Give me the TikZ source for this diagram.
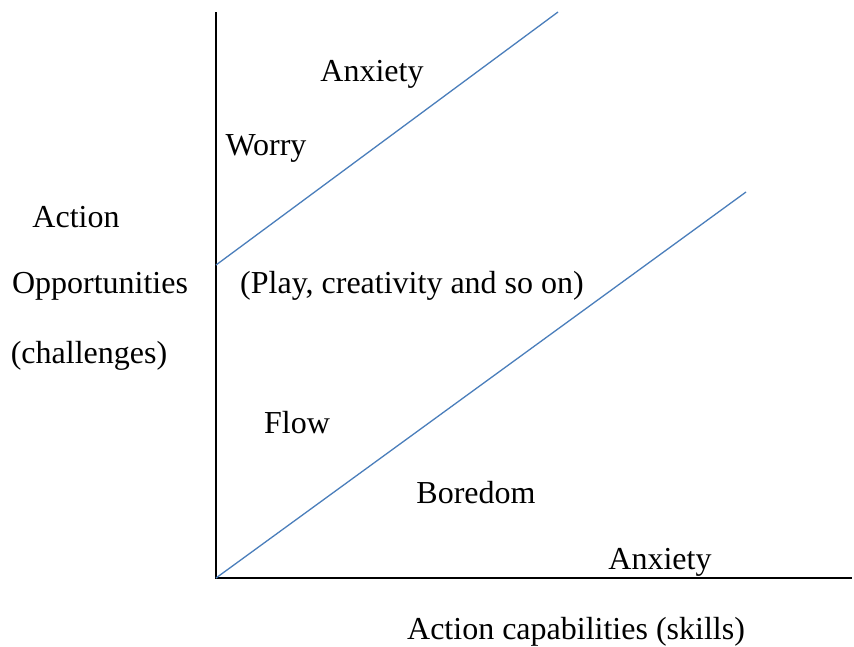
\documentclass[tikz,border=0pt]{standalone}
\usepackage{fontspec}
\setmainfont{Liberation Serif}
\definecolor{lineblue}{HTML}{4A7EBB}
\begin{document}
\begin{tikzpicture}[x=1pt,y=-1pt,
  axis/.style={black,line width=1.3pt},
  zone/.style={lineblue,line width=1.3pt},
  lbl/.style={font=\fontsize{32}{36}\selectfont,inner sep=0pt}]
\useasboundingbox[fill=white] (0,0) rectangle (854,646);
% axes
\coordinate (top) at (216,12);
\coordinate (origin) at (216,578);
\coordinate (right) at (852,578);
\draw[axis] (top) -- (origin) -- (right);
% channel boundaries
\coordinate (u0) at (216,265);
\coordinate (u1) at (558,12);
\coordinate (l1) at (746,192);
\draw[zone] (u0) -- (u1);
\draw[zone] (origin) -- (l1);
% labels
\node[lbl] (anx1) at (372,74) {Anxiety};
\node[lbl] (worry) at (266,148) {Worry};
\node[lbl] (ya) at (76,217) {Action};
\node[lbl] (yb) at (100,286) {Opportunities};
\node[lbl] (yc) at (89,356) {(challenges)};
\node[lbl] (play) at (412,286) {(Play, creativity and so on)};
\node[lbl] (flow) at (297,423) {Flow};
\node[lbl] (bore) at (476,493) {Boredom};
\node[lbl] (anx2) at (660,562) {Anxiety};
\node[lbl] (xl) at (576,632) {Action capabilities (skills)};
\end{tikzpicture}
\end{document}
